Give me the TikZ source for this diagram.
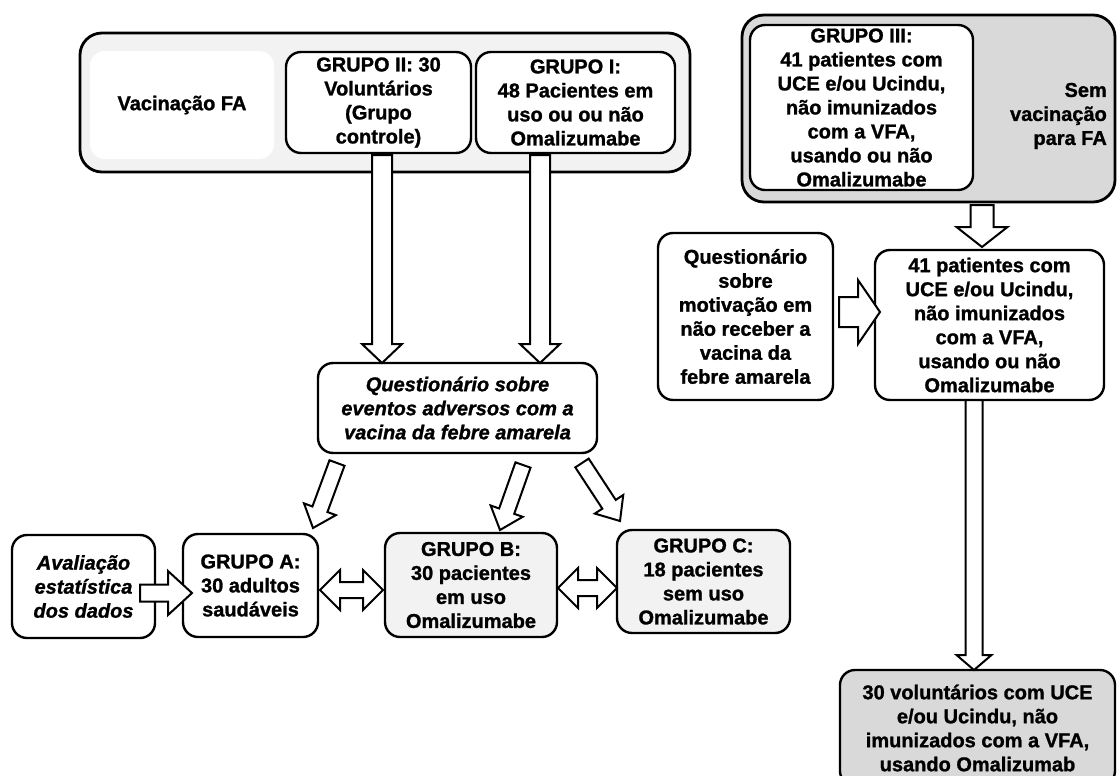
\documentclass[tikz,border=0pt]{standalone}
\usepackage{fontspec}
\setmainfont{Liberation Sans}[BoldFeatures={FakeBold=1.2},BoldItalicFeatures={FakeBold=1.2}]
\usetikzlibrary{calc}
\definecolor{panelgray}{HTML}{F2F2F2}
\definecolor{darkpanel}{HTML}{D9D9D9}
\newcommand{\hollowarrow}[5]{%
  \path ($(#2)!#5!(#1)$) coordinate (ha);
  \draw[fatarrow] ($(#1)!#3!90:(#2)$) -- ($(ha)!#3!-90:(#1)$) -- ($(ha)!#4!-90:(#1)$)
    -- (#2) -- ($(ha)!#4!90:(#1)$) -- ($(ha)!#3!90:(#1)$) -- ($(#1)!#3!-90:(#2)$) -- cycle;}
\newcommand{\hollowdouble}[5]{%
  \path ($(#1)!#5!(#2)$) coordinate (hb) ($(#2)!#5!(#1)$) coordinate (he);
  \draw[fatarrow] (#1) -- ($(hb)!#4!90:(#2)$) -- ($(hb)!#3!90:(#2)$) -- ($(he)!#3!-90:(#1)$)
    -- ($(he)!#4!-90:(#1)$) -- (#2) -- ($(he)!#4!90:(#1)$) -- ($(he)!#3!90:(#1)$)
    -- ($(hb)!#3!-90:(#2)$) -- ($(hb)!#4!-90:(#2)$) -- cycle;}

\begin{document}
\begin{tikzpicture}[x=1pt,y=-1pt]
  \tikzstyle{every node}=[font=\fontsize{20}{24}\selectfont\bfseries,align=center,inner sep=0pt]
  \tikzstyle{box}=[draw,line width=2.4pt,rounded corners=15pt,fill=white]
  \tikzstyle{panel}=[draw,line width=2.8pt,rounded corners=22pt]
  \tikzstyle{fatarrow}=[line width=2pt,fill=white,line join=miter]
  \useasboundingbox (0,0) rectangle (1119,776);

  \node[panel,fill=panelgray,minimum width=610pt,minimum height=139pt] (vacpanel) at (385,102.5) {};
  \node[fill=white,rounded corners=15pt,minimum width=184pt,minimum height=108pt] (vac) at (182,105) {Vacinação FA};
  \node[box,minimum width=185pt,minimum height=101pt] (g2) at (378.5,102.5) {GRUPO II: 30\\Voluntários\\(Grupo\\controle)};
  \node[box,minimum width=199pt,minimum height=101pt] (g1) at (575.5,102.5) {GRUPO I:\\48 Pacientes em\\uso ou ou não\\Omalizumabe};

  \node[box,minimum width=279pt,minimum height=90pt,font=\fontsize{20}{24}\selectfont\bfseries\itshape] (q) at (457.5,408) {Questionário sobre\\eventos adversos com a\\vacina da febre amarela};

  \node[box,minimum width=143pt,minimum height=103pt,font=\fontsize{20}{24}\selectfont\bfseries\itshape] (aval) at (83.5,586.5) {Avaliação\\estatística\\dos dados};
  \node[box,minimum width=135pt,minimum height=103pt] (ga) at (250.5,585.5) {GRUPO A:\\30 adultos\\saudáveis};
  \node[box,fill=panelgray,minimum width=172pt,minimum height=104pt] (gb) at (471,585) {GRUPO B:\\30 pacientes\\em uso\\Omalizumabe};
  \node[box,fill=panelgray,minimum width=173pt,minimum height=103pt] (gc) at (703.5,581.5) {GRUPO C:\\18 pacientes\\sem uso\\Omalizumabe};

  \node[panel,fill=darkpanel,minimum width=373pt,minimum height=187pt] (semvac) at (928.5,108.5) {};
  \node[box,minimum width=223pt,minimum height=165pt] (g3) at (861.5,107.5) {GRUPO III:\\41 patientes com\\UCE e/ou Ucindu,\\não imunizados\\com a VFA,\\usando ou não\\Omalizumabe};
  \node[align=right,anchor=east] (semtxt) at (1107,116) {Sem\\vacinação\\para FA};

  \node[box,minimum width=175pt,minimum height=167pt] (mot) at (745.5,316.5) {Questionário\\sobre\\motivação em\\não receber a\\vacina da\\febre amarela};
  \node[box,minimum width=229pt,minimum height=150pt] (p41) at (989.5,325) {41 patientes com\\UCE e/ou Ucindu,\\não imunizados\\com a VFA,\\usando ou não\\Omalizumabe};
  \node[box,fill=darkpanel,minimum width=275pt,minimum height=116pt] (vol) at (977.5,728) {30 voluntários com UCE\\e/ou Ucindu, não\\imunizados com a VFA,\\usando Omalizumab};

  \coordinate (g2out) at (382,155);
  \coordinate (g2in) at (382,363);
  \coordinate (g1out) at (540,155);
  \coordinate (g1in) at (540,363);
  \coordinate (qa) at (337,463);
  \coordinate (qaend) at (313,528);
  \coordinate (qb) at (523,465);
  \coordinate (qbend) at (500,530);
  \coordinate (qc) at (582,463);
  \coordinate (qcend) at (620,521);
  \coordinate (avalout) at (140,593);
  \coordinate (gain) at (192,593);
  \coordinate (gaout) at (320,590);
  \coordinate (gbin) at (383,590);
  \coordinate (gbout) at (558,588);
  \coordinate (gcin) at (617,588);
  \coordinate (semout) at (982,205);
  \coordinate (p41in) at (982,247);
  \coordinate (motout) at (839,312);
  \coordinate (p41left) at (880,312);
  \coordinate (p41out) at (974,400);
  \coordinate (volin) at (974,670);

  \hollowarrow{g2out}{g2in}{10pt}{20pt}{19pt}
  \hollowarrow{g1out}{g1in}{10pt}{20pt}{19pt}
  \hollowarrow{qa}{qaend}{8pt}{17pt}{20pt}
  \hollowarrow{qb}{qbend}{8pt}{17pt}{20pt}
  \hollowarrow{qc}{qcend}{8pt}{17pt}{20pt}
  \hollowarrow{avalout}{gain}{8.5pt}{22pt}{24pt}
  \hollowdouble{gaout}{gbin}{8pt}{20pt}{20pt}
  \hollowdouble{gbout}{gcin}{8pt}{20pt}{20pt}
  \hollowarrow{semout}{p41in}{11.5pt}{25.5pt}{20pt}
  \hollowarrow{motout}{p41left}{15pt}{32pt}{22pt}
  \hollowarrow{p41out}{volin}{8.5pt}{17.5pt}{15pt}
\end{tikzpicture}
\end{document}
